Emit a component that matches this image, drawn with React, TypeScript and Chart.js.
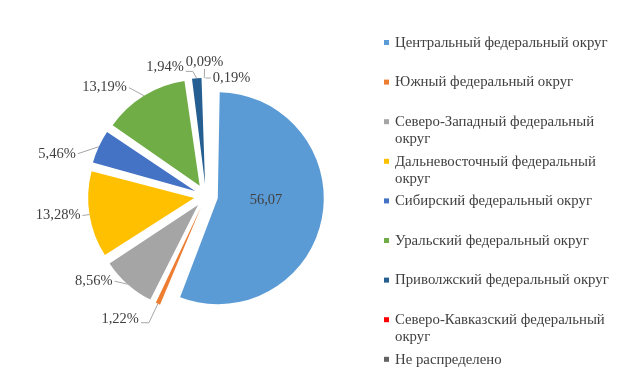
import { useEffect, useRef } from 'react';
import { Chart, registerables } from 'chart.js';

Chart.register(...registerables);

const categories = [
  'Центральный федеральный округ',
  'Южный федеральный округ',
  'Северо-Западный федеральный округ',
  'Дальневосточный федеральный округ',
  'Сибирский федеральный округ',
  'Уральский федеральный округ',
  'Приволжский федеральный округ',
  'Северо-Кавказский федеральный округ',
  'Не распределено',
];
const shares = [56.07, 1.22, 8.56, 13.28, 5.46, 13.19, 1.94, 0.09, 0.19];
const colors = ['#5B9BD5', '#ED7D31', '#A5A5A5', '#FFC000', '#4472C4', '#70AD47', '#255E91', '#FF0000', '#636363'];
// label layout nudges (px) relative to the default label placement
const labelNudges: [number, number][] = [[-9, -9], [-4, 15], [0, -3], [6, 1], [-8, 7], [-2, -8], [2, -11], [34, -16], [60, 0]];

const EXPLODE = 12;
const RADIUS = 106;
const LABEL_FONT = "14.5px 'Liberation Serif', 'Times New Roman', serif";
const LEGEND_FONT = "14.8px 'Liberation Serif', 'Times New Roman', serif";
const TEXT = '#404040';

const fmt = (v: number) => v.toFixed(2).replace('.', ',');

// Chart.js enlarges an offset arc's radius by offset/4 * fix; compensate so every slice keeps RADIUS
const explodePlugin = {
  id: 'uniformExplode',
  beforeDatasetsDraw(chart: any) {
    const meta = chart.getDatasetMeta(0);
    meta.data.forEach((arc: any) => {
      const circ = arc.endAngle - arc.startAngle;
      const fix = 1 - Math.sin(Math.min(Math.PI, circ));
      const off = (arc.options.offset || 0) / 4;
      arc.outerRadius = RADIUS - off * fix;
    });
  },
};

const labelsPlugin = {
  id: 'pieLabels',
  afterDatasetsDraw(chart: any) {
    const ctx = chart.ctx as CanvasRenderingContext2D;
    const meta = chart.getDatasetMeta(0);
    ctx.save();
    ctx.font = LABEL_FONT;
    ctx.textBaseline = 'middle';
    ctx.textAlign = 'center';
    meta.data.forEach((arc: any, i: number) => {
      const { x, y, startAngle, endAngle } = arc;
      const mid = (startAngle + endAngle) / 2;
      const c = Math.cos(mid);
      const s = Math.sin(mid);
      const [nx, ny] = labelNudges[i] || [0, 0];
      const v = shares[i];
      if (v > 25) {
        const d = EXPLODE + RADIUS * 0.55;
        ctx.fillStyle = TEXT;
        ctx.fillText(fmt(v), x + d * c + nx, y + d * s + ny);
        return;
      }
      const text = fmt(v) + '%';
      const w = ctx.measureText(text).width;
      const ex = x + (RADIUS + EXPLODE) * c;
      const ey = y + (RADIUS + EXPLODE) * s;
      const lx = ex - 15 - w / 2 + nx;
      const ly = ey + ny;
      ctx.strokeStyle = '#A6A6A6';
      ctx.lineWidth = 1;
      ctx.beginPath();
      ctx.moveTo(ex, ey);
      if (lx - w / 2 > ex) {
        ctx.lineTo(lx - w / 2 - 2, ly);
      } else if (lx + w / 2 < ex) {
        const rx = lx + w / 2 + 2;
        const elbow = Math.min(ex - 4, rx + 8);
        if (Math.abs(ly - ey) > 10) ctx.lineTo(elbow, ly + 4);
        ctx.lineTo(rx, Math.abs(ly - ey) > 10 ? ly + 4 : ly);
      } else {
        ctx.lineTo(lx, ly + 7);
      }
      ctx.stroke();
      ctx.fillStyle = TEXT;
      ctx.fillText(text, lx, ly);
    });
    ctx.restore();
  },
};

const legendPlugin = {
  id: 'sideLegend',
  afterDraw(chart: any) {
    const ctx = chart.ctx as CanvasRenderingContext2D;
    ctx.save();
    ctx.font = LEGEND_FONT;
    ctx.textBaseline = 'middle';
    ctx.textAlign = 'left';
    const x0 = 384;
    const tx = 395;
    const maxW = 224;
    chart.data.labels.forEach((label: string, i: number) => {
      const y = 43 + i * 39.6;
      ctx.fillStyle = colors[i];
      ctx.fillRect(x0, y - 3, 5, 5);
      const words = label.split(' ');
      const lines: string[] = [];
      let cur = '';
      words.forEach((wd) => {
        const t = cur ? cur + ' ' + wd : wd;
        if (cur && ctx.measureText(t).width > maxW) { lines.push(cur); cur = wd; }
        else cur = t;
      });
      if (cur) lines.push(cur);
      ctx.fillStyle = TEXT;
      lines.forEach((ln, k) => ctx.fillText(ln, tx, y + k * 17));
    });
    ctx.restore();
  },
};

export default function App() {
  const ref = useRef<HTMLCanvasElement | null>(null);
  useEffect(() => {
    if (!ref.current) return;
    const chart = new Chart(ref.current, {
      type: 'pie',
      data: {
        labels: categories,
        datasets: [{
          data: shares,
          backgroundColor: colors,
          borderWidth: 0,
          offset: EXPLODE * 4,
        }],
      },
      options: {
        responsive: false,
        animation: false,
        radius: RADIUS,
        layout: { padding: { left: 0, right: 231, top: 15, bottom: 0 } },
        plugins: { legend: { display: false }, tooltip: { enabled: false } },
      } as any,
      plugins: [explodePlugin, labelsPlugin, legendPlugin],
    });
    return () => chart.destroy();
  }, []);
  return (
    <div style={{ position: 'absolute', left: 0, top: 0, width: 643, height: 377, background: '#fff' }}>
      <canvas ref={ref} width={643} height={377} style={{ display: 'block' }} />
    </div>
  );
}
